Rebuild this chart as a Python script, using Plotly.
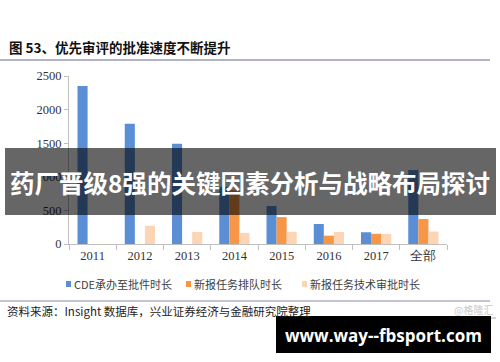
import plotly.graph_objects as go

# ---- data ----
categories = ["2011", "2012", "2013", "2014", "2015", "2016", "2017", "全部"]
series_names = ["CDE承办至批件时长", "新报任务排队时长", "新报任务技术审批时长"]
cde_days = [2350, 1790, 1490, 850, 565, 298, 175, 1100]
queue_days = [0, 0, 0, 800, 400, 124, 152, 372]
tech_days = [0, 270, 180, 165, 182, 178, 150, 185]
series_values = [cde_days, queue_days, tech_days]
series_colors = ["#5a8fd6", "#f79646", "#fcd5b5"]
y_ticks = [0, 500, 1000, 1500, 2000, 2500]

title_text = "图 53、优先审评的批准速度不断提升"
source_text = "资料来源：Insight 数据库，兴业证券经济与金融研究院整理"
watermark_text = "@格隆汇"
banner_text = "药厂晋级8强的关键因素分析与战略布局探讨"
site_text = "www.way--fbsport.com"

W, H = 500, 362
L, R, T, B = 69, 53, 76, 118
PW, PH = W - L - R, H - T - B

fig = go.Figure()
for name, vals, col in zip(series_names, series_values, series_colors):
    fig.add_trace(go.Bar(x=categories, y=vals, name=name,
                         marker=dict(color=col, line=dict(width=0)),
                         showlegend=False))

def px(x):
    return (x - L) / PW

def py(y):
    return (H - B - y) / PH

shapes = []
annotations = []

# title + rule
annotations.append(dict(text="<b>" + title_text + "</b>", x=px(7), y=py(47), xref="paper", yref="paper",
                        xanchor="left", yanchor="middle", showarrow=False,
                        font=dict(family="Noto Sans CJK SC", size=13.5, color="#111111")))
shapes.append(dict(type="line", xref="paper", yref="paper", x0=px(0), x1=px(490), y0=py(60), y1=py(60),
                   line=dict(color="#9a9ab8", width=1.5)))

# manual legend
leg_x = [66, 186, 302]
for name, col, lx in zip(series_names, series_colors, leg_x):
    shapes.append(dict(type="rect", xref="paper", yref="paper", x0=px(lx), x1=px(lx + 5),
                       y0=py(287), y1=py(281), fillcolor=col, line=dict(width=0)))
    annotations.append(dict(text=name, x=px(lx + 6), y=py(284), xref="paper", yref="paper",
                            xanchor="left", yanchor="middle", showarrow=False,
                            font=dict(family="Noto Sans CJK SC", size=11, color="#404040")))

# bottom rule, source, watermark
shapes.append(dict(type="line", xref="paper", yref="paper", x0=px(0), x1=px(490), y0=py(301), y1=py(301),
                   line=dict(color="#8888aa", width=1)))
annotations.append(dict(text=source_text, x=px(5), y=py(311), xref="paper", yref="paper",
                        xanchor="left", yanchor="middle", showarrow=False,
                        font=dict(family="Noto Sans CJK SC", size=11.5, color="#222222")))
annotations.append(dict(text=watermark_text, x=px(495), y=py(309), xref="paper", yref="paper",
                        xanchor="right", yanchor="middle", showarrow=False,
                        font=dict(family="Noto Sans CJK SC", size=10, color="#c8c8c8")))
shapes.append(dict(type="line", xref="paper", yref="paper", x0=px(452), x1=px(496), y0=py(318), y1=py(318),
                   line=dict(color="#aaaaaa", width=1)))

# banner overlay
shapes.append(dict(type="rect", xref="paper", yref="paper", x0=px(5), x1=px(496), y0=py(215), y1=py(148),
                   fillcolor="rgba(0,0,0,0.6)", line=dict(width=0), layer="above"))
annotations.append(dict(text="<b>" + banner_text + "</b>", x=px(250), y=py(182), xref="paper", yref="paper",
                        xanchor="center", yanchor="middle", showarrow=False,
                        font=dict(family="Noto Sans CJK SC", size=24.5, color="#ffffff")))

# site box
shapes.append(dict(type="rect", xref="paper", yref="paper", x0=px(276), x1=px(491), y0=py(353), y1=py(316),
                   fillcolor="#000000", line=dict(width=0), layer="above"))
annotations.append(dict(text="<b>" + site_text + "</b>", x=px(383), y=py(335), xref="paper", yref="paper",
                        xanchor="center", yanchor="middle", showarrow=False,
                        font=dict(family="Open Sans", size=17, color="#ffffff")))

fig.update_layout(
    width=W, height=H,
    margin=dict(l=L, r=R, t=T, b=B, pad=0),
    paper_bgcolor="#ffffff", plot_bgcolor="#ffffff",
    barmode="group", bargap=0.36, bargroupgap=0,
    showlegend=False,
    shapes=shapes, annotations=annotations,
    xaxis=dict(type="category", showgrid=False, showline=True, linecolor="#bfbfbf", linewidth=1,
               ticks="outside", tickson="boundaries", ticklen=5, tickcolor="#bfbfbf",
               tickfont=dict(family="Liberation Serif", size=12.5, color="#333333"), fixedrange=True),
    yaxis=dict(range=[0, 2500], tickvals=y_ticks, showgrid=False, zeroline=False,
               showline=True, linecolor="#bfbfbf", linewidth=1,
               ticks="outside", ticklen=4, tickcolor="#bfbfbf",
               tickfont=dict(family="Liberation Serif", size=12.5, color="#333333"), fixedrange=True),
)

fig.write_html("out.html")
